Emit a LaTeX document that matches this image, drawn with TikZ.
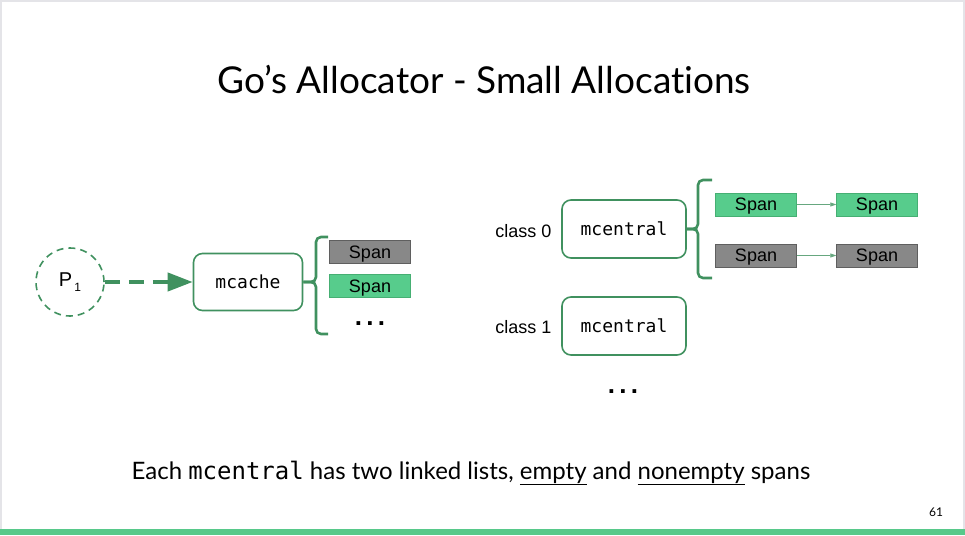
\documentclass[tikz,border=0pt]{standalone}
\usepackage{fontspec}
\setmainfont{Lato}[Ligatures=NoCommon]
\setsansfont{Liberation Sans}
\setmonofont{DejaVu Sans Mono}
\usetikzlibrary{arrows.meta,positioning}
\definecolor{boxgreen}{RGB}{64,145,95}
\definecolor{spanfill}{RGB}{87,204,140}
\definecolor{spanborder}{RGB}{70,175,115}
\definecolor{grayfill}{RGB}{136,136,136}
\definecolor{grayborder}{RGB}{95,95,95}
\definecolor{bargreen}{RGB}{87,201,138}
\definecolor{framegray}{RGB}{228,228,232}
\begin{document}
\begin{tikzpicture}[x=1pt, y=-1pt,
	lbl/.style={font=\sffamily\fontsize{18}{20}\selectfont},
	box/.style={draw=boxgreen, line width=1.6pt, rounded corners=9pt,
		minimum width=109pt, minimum height=57pt,
		font=\ttfamily\fontsize{18}{20}\selectfont},
	spangreen/.style={lbl, draw=spanborder, fill=spanfill,
		minimum width=81pt, minimum height=23pt, inner sep=0pt, text depth=0pt},
	spangray/.style={spangreen, draw=grayborder, fill=grayfill},
	dots/.style={font=\sffamily\bfseries\fontsize{26}{28}\selectfont},
	brace/.style={draw=boxgreen, line width=2.6pt, rounded corners=5pt},
	link/.style={draw=boxgreen!80, line width=0.7pt, -{Triangle[length=6pt,width=4pt]}}]
	%frame
	\useasboundingbox (0,0) rectangle (965,535);
	\draw[framegray, line width=2pt] (1,1) rectangle (964,534);
	\fill[bargreen] (0,529) rectangle (965,535);
	%title
	\node[font=\fontsize{37}{40}\selectfont] (title) at (484,80)
	{Go’s Allocator - Small Allocations};
	%P1 and mcache
	\node[circle, draw=boxgreen, dash pattern=on 7pt off 5pt, line width=1.6pt,
	minimum size=68pt, font=\sffamily\fontsize{20}{22}\selectfont]
	(p1) at (70,282) {P\raisebox{-5pt}{\fontsize{12}{12}\selectfont\,1}};
	\node[box] (mcache) at (248,282) {mcache};
	\draw[boxgreen, line width=4pt, dash pattern=on 15pt off 9pt,
	-{Triangle[length=25pt,width=18pt]}] (p1) -- (mcache);
	%mcache spans
	\node[spangray] (cspan1) at (370,252) {Span};
	\node[spangreen] (cspan2) at (370,286) {Span};
	\node[dots] (cdots) at (370,324) {.\,.\,.};
	\coordinate (cbrace) at (316,282);
	\draw[brace] (328,237) -| (cbrace) -- (mcache.east);
	\draw[brace] (328,334) -| (cbrace) -- (mcache.east);
	%mcentral
	\node[lbl, anchor=east] (class0) at (555,231) {class 0};
	\node[box, minimum width=124pt, minimum height=58pt] (mcentral0) at (624,229) {mcentral};
	\node[lbl, anchor=east] (class1) at (555,327) {class 1};
	\node[box, minimum width=124pt, minimum height=58pt] (mcentral1) at (624,326) {mcentral};
	\node[dots] (mdots) at (623,392) {.\,.\,.};
	%linked lists
	\foreach \n/\y/\s in {nonempty/204.5/spangreen, empty/255.5/spangray}{
		\node[\s] (\n1) at (756,\y) {Span};
		\node[\s] (\n2) at (877,\y) {Span};
		\draw[link] (\n1) -- (\n2);
	}
	\coordinate (mbrace) at (698,229);
	\draw[brace] (712,180) -| (mbrace) -- (mcentral0.east);
	\draw[brace] (712,278) -| (mbrace) -- (mcentral0.east);
	%caption
	\node[font=\fontsize{24}{28}\selectfont] (caption) at (471,473)
	{Each {\ttfamily mcentral} has two linked lists, \underline{empty} and \underline{nonempty} spans};
	\node[font=\fontsize{12}{14}\selectfont] (page) at (936,512) {61};
\end{tikzpicture}
\end{document}
